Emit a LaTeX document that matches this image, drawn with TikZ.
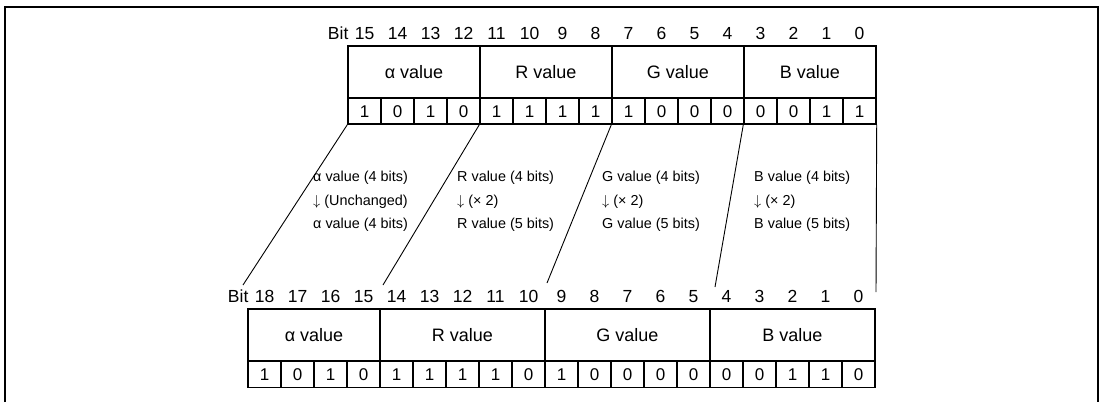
\documentclass[tikz,border=0pt]{standalone}
\usepackage{fontspec}
\setmainfont{Liberation Sans}
\usepackage{tikz}
\usetikzlibrary{positioning,calc}
\tikzset{
  fld/.style ={draw,line width=1.6pt,minimum height=52pt,inner sep=0pt,
               font=\fontsize{18}{20}\selectfont},
  cell/.style={draw,line width=1.4pt,minimum width=33pt,minimum height=26pt,
               inner sep=0pt,text height=12pt,text depth=0pt,
               font=\fontsize{17}{19}\selectfont},
  bitn/.style={inner sep=0pt,text height=12.5pt,text depth=0pt,
               font=\fontsize{17.5}{19}\selectfont},
  note/.style={align=left,inner sep=0pt,anchor=west,
               font=\fontsize{14.4}{23.5}\selectfont},
  conn/.style={draw,line width=0.9pt},
}

\begin{document}
\begin{tikzpicture}[x=1pt,y=-1pt]
  \useasboundingbox (0,0) rectangle (1102,402);
  \draw[line width=2pt] (5,402) -- (5,7) -- (1098,7) -- (1098,402);

  % upper register (16 bits)
  \node[fld,minimum width=132pt] (ua) at (414,72) {α value};
  \node[fld,minimum width=132pt] (ur) at (546,72) {R value};
  \node[fld,minimum width=132pt] (ug) at (678,72) {G value};
  \node[fld,minimum width=132pt] (ub) at (810,72) {B value};
  \foreach \v [count=\i from 0] in {1,0,1,0,1,1,1,1,1,0,0,0,0,0,1,1}{
    \pgfmathtruncatemacro\b{15-\i}
    \node[cell] (uc\b) at (364.5+33*\i,111) {\v};
    \node[bitn] (un\b) at (364.5+33*\i,33) {\b};
  }
  \node[bitn,left=6pt of un15] (ubit) {Bit};

  % lower register (19 bits)
  \node[fld,minimum width=132pt] (la) at (314,335) {α value};
  \node[fld,minimum width=165pt] (lr) at (462.5,335) {R value};
  \node[fld,minimum width=165pt] (lg) at (627.5,335) {G value};
  \node[fld,minimum width=165pt] (lb) at (792.5,335) {B value};
  \foreach \v [count=\i from 0] in {1,0,1,0,1,1,1,1,0,1,0,0,0,0,0,0,1,1,0}{
    \pgfmathtruncatemacro\b{18-\i}
    \node[cell] (lc\b) at (264.5+33*\i,374.5) {\v};
    \node[bitn] (ln\b) at (264.5+33*\i,296) {\b};
  }
  \node[bitn,left=6pt of ln18] (lbit) {Bit};

  % where the field borders meet the lower bit numbers
  \coordinate (e1) at (243,285);
  \coordinate (e2) at (383,285);
  \coordinate (e3) at (547,283);
  \coordinate (e4) at (715,287);
  \coordinate (e5) at (876,292);
  \draw[conn] (uc15.south west) -- (e1);
  \draw[conn] (uc11.south west) -- (e2);
  \draw[conn] (uc7.south west) -- (e3);
  \draw[conn] (uc3.south west) -- (e4);
  \draw[conn] (uc0.south east) -- (e5);

  % conversion notes
  \node[note] (na) at (313,201.5) {α value (4 bits)\\$\downarrow$ (Unchanged)\\α value (4 bits)};
  \node[note] (nr) at (457,201.5) {R value (4 bits)\\$\downarrow$ (× 2)\\R value (5 bits)};
  \node[note] (ng) at (602,201.5) {G value (4 bits)\\$\downarrow$ (× 2)\\G value (5 bits)};
  \node[note] (nb) at (754,201.5) {B value (4 bits)\\$\downarrow$ (× 2)\\B value (5 bits)};
\end{tikzpicture}
\end{document}
